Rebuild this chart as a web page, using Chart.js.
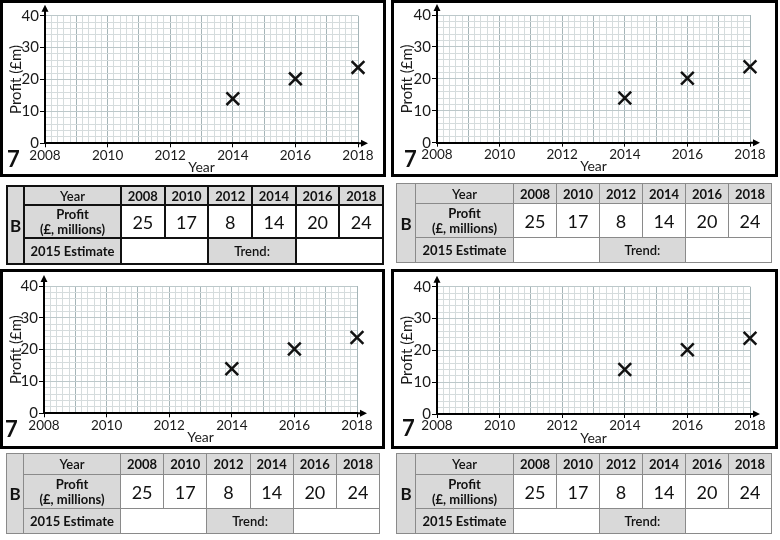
<!DOCTYPE html>
<html>
<head>
<meta charset="utf-8">
<title>Profit</title>
<script src="https://cdn.jsdelivr.net/npm/chart.js@4.4.1/dist/chart.umd.min.js"></script>
<style>
  body { margin: 0; width: 780px; height: 540px; position: relative; overflow: hidden; background: #fff; font-family: Lato, sans-serif; color: #111; }
  .panel { position: absolute; border: 3px solid #000; box-sizing: border-box; }
  .panel canvas { position: absolute; left: 0; top: 0; }
  .seven { position: absolute; font: bold 22px/22px Lato, sans-serif; color: #111; }
  table { position: absolute; border-collapse: collapse; table-layout: fixed; }
  td { padding: 0; text-align: center; vertical-align: middle; border: 1px solid #8a8a8a; white-space: nowrap; overflow: hidden; }
  table.dark td { border: 2px solid #111; }
  .grey { background: #d9d9d9; }
  .year { font-weight: bold; font-size: 13px; }
  .lbl { font-weight: bold; font-size: 13px; line-height: 15px; }
  .val { font-size: 18px; }
  .b { font-weight: bold; font-size: 17px; }
  .mid { font-weight: 600; font-size: 13px; }
</style>
</head>
<body>
<script>
const years = [2008, 2010, 2012, 2014, 2016, 2018];
const profits = [25, 17, 8, 14, 20, 24];
const plottedYears = [2014, 2016, 2018];
const plottedProfits = [14, 20.2, 23.8];
const xTickLabels = [2008, 2010, 2012, 2014, 2016, 2018];
const yTickLabels = [0, 10, 20, 30, 40];

// Page layout of the four copies (box, plot area, "7", table)
const panels = [
    { box: [0, 0, 386, 177], area: [45, 15.7, 358, 143.3], seven: [7, 148],
      table: { x: 6, y: 185, cols: [17, 97, 43.7], rows: [19, 33, 26], dark: true } },
    { box: [391, 0, 387, 177], area: [437, 15, 750, 142.7], seven: [404, 148],
      table: { x: 396, y: 183, cols: [19, 98, 43], rows: [20, 34, 25] } },
    { box: [0, 269, 385, 180], area: [44, 286, 357, 413.3], seven: [5, 418],
      table: { x: 6, y: 453, cols: [17, 97, 43.2], rows: [21, 34, 25] } },
    { box: [391, 269, 387, 180], area: [437, 286.7, 750, 414], seven: [402, 417],
      table: { x: 396, y: 453, cols: [19, 98, 43], rows: [21, 34, 25] } }
];

Chart.defaults.font.family = 'Lato';
Chart.defaults.color = '#1a1a1a';

function onList(list, v) {
    return list.some(t => Math.abs(t - v) < 1e-6);
}

// Arrow heads at the ends of both axes
const axisArrows = {
    id: 'axisArrows',
    afterDraw(chart) {
        const { ctx, chartArea: a } = chart;
        const yTip = a.top - 11;
        const xTip = a.right + 10;
        ctx.save();
        ctx.strokeStyle = '#000';
        ctx.fillStyle = '#000';
        ctx.lineWidth = 2;
        ctx.beginPath();
        ctx.moveTo(a.left, a.top);
        ctx.lineTo(a.left, yTip + 5);
        ctx.moveTo(a.right, a.bottom);
        ctx.lineTo(xTip - 5, a.bottom);
        ctx.stroke();
        ctx.beginPath();
        ctx.moveTo(a.left, yTip);
        ctx.lineTo(a.left - 3.5, yTip + 7);
        ctx.lineTo(a.left + 3.5, yTip + 7);
        ctx.closePath();
        ctx.moveTo(xTip, a.bottom);
        ctx.lineTo(xTip - 7, a.bottom - 3.5);
        ctx.lineTo(xTip - 7, a.bottom + 3.5);
        ctx.closePath();
        ctx.fill();
        ctx.restore();
    }
};

function makeChart(p) {
    const box = document.createElement('div');
    box.className = 'panel';
    box.style.left = p.box[0] + 'px';
    box.style.top = p.box[1] + 'px';
    box.style.width = p.box[2] + 'px';
    box.style.height = p.box[3] + 'px';
    document.body.appendChild(box);

    const ox = p.box[0] + 3, oy = p.box[1] + 3;
    const cw = p.box[2] - 6, ch = p.box[3] - 6;
    const canvas = document.createElement('canvas');
    canvas.width = cw;
    canvas.height = ch;
    canvas.style.width = cw + 'px';
    canvas.style.height = ch + 'px';
    box.appendChild(canvas);

    const yAxisW = p.area[0] - ox;
    const xAxisH = oy + ch - p.area[3];
    const titlePad = Math.max(0, oy + ch - (p.area[3] + 24.5) - 6.5);

    new Chart(canvas, {
        type: 'scatter',
        data: {
            datasets: [{
                data: plottedYears.map((x, i) => ({ x: x, y: plottedProfits[i] })),
                pointStyle: 'crossRot',
                pointRadius: 9,
                pointBorderWidth: 2.5,
                pointBorderColor: '#111',
                pointBackgroundColor: '#111',
                clip: false
            }]
        },
        options: {
            responsive: false,
            animation: false,
            events: [],
            layout: { padding: { top: p.area[1] - oy, right: ox + cw - p.area[2], left: 0, bottom: 0 } },
            plugins: { legend: { display: false }, tooltip: { enabled: false } },
            scales: {
                x: {
                    type: 'linear',
                    min: 2008,
                    max: 2018,
                    afterFit: s => { s.height = xAxisH; },
                    ticks: {
                        stepSize: 0.2,
                        autoSkip: false,
                        minRotation: 0,
                        maxRotation: 0,
                        padding: 0,
                        font: { size: 13.5 },
                        callback: v => onList(xTickLabels, v) ? String(Math.round(v)) : ''
                    },
                    grid: {
                        lineWidth: 1,
                        tickLength: 4,
                        color: c => Math.abs(c.tick.value - Math.round(c.tick.value)) < 1e-6 ? '#a5b5b8' : '#d5dcdd',
                        tickColor: c => onList(xTickLabels, c.tick.value) ? '#000' : 'rgba(0,0,0,0)'
                    },
                    border: { color: '#000', width: 2 },
                    title: { display: true, text: 'Year', font: { size: 14, lineHeight: 1 }, padding: { top: 0, bottom: titlePad } }
                },
                y: {
                    min: 0,
                    max: 40,
                    afterFit: s => { s.width = yAxisW; },
                    ticks: {
                        stepSize: 2,
                        autoSkip: false,
                        padding: 1,
                        font: { size: 15 },
                        callback: v => onList(yTickLabels, v) ? String(v) : ''
                    },
                    grid: {
                        lineWidth: 1,
                        tickLength: 5,
                        color: c => onList(yTickLabels, c.tick.value) ? '#bcc8ca' : '#d5dcdd',
                        tickColor: c => onList(yTickLabels, c.tick.value) ? '#000' : 'rgba(0,0,0,0)'
                    },
                    border: { color: '#000', width: 2 },
                    title: { display: true, text: 'Profit (£m)', font: { size: 15, lineHeight: 1 }, padding: { top: 6, bottom: 0 } }
                }
            }
        },
        plugins: [axisArrows]
    });

    const seven = document.createElement('div');
    seven.className = 'seven';
    seven.textContent = '7';
    seven.style.left = p.seven[0] + 'px';
    seven.style.top = p.seven[1] + 'px';
    document.body.appendChild(seven);
}

function makeTable(t) {
    const tbl = document.createElement('table');
    if (t.dark) tbl.className = 'dark';
    const width = t.cols[0] + t.cols[1] + t.cols[2] * years.length;
    tbl.style.left = t.x + 'px';
    tbl.style.top = t.y + 'px';
    tbl.style.width = width + 'px';
    tbl.style.height = (t.rows[0] + t.rows[1] + t.rows[2]) + 'px';

    let html = `<colgroup><col style="width:${t.cols[0]}px"><col style="width:${t.cols[1]}px">`
        + years.map(() => `<col style="width:${t.cols[2]}px">`).join('') + '</colgroup>';
    html += `<tr style="height:${t.rows[0]}px"><td class="grey b" rowspan="3">B</td><td class="grey mid">Year</td>`
        + years.map(y => `<td class="grey year">${y}</td>`).join('') + '</tr>';
    html += `<tr style="height:${t.rows[1]}px"><td class="grey lbl">Profit<br>(£, millions)</td>`
        + profits.map(v => `<td class="val">${v}</td>`).join('') + '</tr>';
    html += `<tr style="height:${t.rows[2]}px"><td class="grey lbl">2015 Estimate</td><td colspan="2"></td>`
        + '<td class="grey mid" colspan="2">Trend:</td><td colspan="2"></td></tr>';
    tbl.innerHTML = html;
    document.body.appendChild(tbl);
}

panels.forEach(p => {
    makeChart(p);
    makeTable(p.table);
});
</script>
</body>
</html>
